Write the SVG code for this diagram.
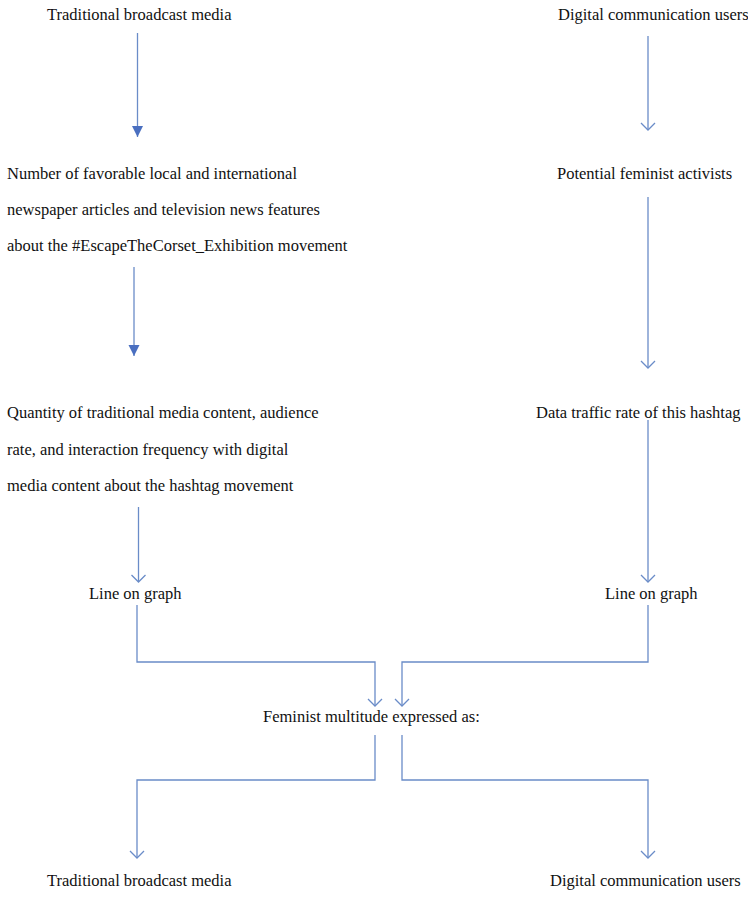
<svg xmlns="http://www.w3.org/2000/svg" width="748" height="919" viewBox="0 0 748 919">
<style>
text{font-family:'Liberation Serif','Times New Roman',Times,'DejaVu Serif',serif;font-size:16.5px;fill:#111}
.c{fill:none;stroke:#6a8cc8;stroke-width:1.3}
</style>
<defs>
<marker id="open" markerWidth="16" markerHeight="16" refX="14" refY="8" orient="auto" markerUnits="userSpaceOnUse" viewBox="0 0 16 16">
<path d="M7,1 L14,8 L7,15" fill="none" stroke="#6a8cc8" stroke-width="1.3"/>
</marker>
<marker id="tri" markerWidth="12" markerHeight="12" refX="11" refY="6" orient="auto" markerUnits="userSpaceOnUse" viewBox="0 0 12 12">
<path d="M0,0.5 L11,6 L0,11.5 Z" fill="#4a6fc0"/>
</marker>
</defs>
<g id="n1"><text x="47" y="20">Traditional broadcast media</text></g>
<g id="n2"><text x="558" y="20">Digital communication users</text></g>
<g id="n3"><text x="7" y="179">Number of favorable local and international</text><text x="7" y="215">newspaper articles and television news features</text><text x="7" y="251">about the #EscapeTheCorset_Exhibition movement</text></g>
<g id="n4"><text x="557" y="179">Potential feminist activists</text></g>
<g id="n5"><text x="7" y="418">Quantity of traditional media content, audience</text><text x="7" y="455">rate, and interaction frequency with digital</text><text x="7" y="491">media content about the hashtag movement</text></g>
<g id="n6"><text x="536" y="418">Data traffic rate of this hashtag</text></g>
<g id="n7"><text x="89" y="599">Line on graph</text></g>
<g id="n8"><text x="605" y="599">Line on graph</text></g>
<g id="n9"><text x="263" y="722">Feminist multitude expressed as:</text></g>
<g id="n10"><text x="47" y="886">Traditional broadcast media</text></g>
<g id="n11"><text x="550" y="886">Digital communication users</text></g>
<g id="connectors">
<path class="c" d="M137.5,33 V137" marker-end="url(#tri)"/>
<path class="c" d="M648,36 V130" marker-end="url(#open)"/>
<path class="c" d="M134,267 V356" marker-end="url(#tri)"/>
<path class="c" d="M648,197 V368" marker-end="url(#open)"/>
<path class="c" d="M138.5,507 V582" marker-end="url(#open)"/>
<path class="c" d="M648,420 V582" marker-end="url(#open)"/>
<path class="c" d="M137,605 V662 H375 V706" marker-end="url(#open)"/>
<path class="c" d="M648,605 V662 H402 V706" marker-end="url(#open)"/>
<path class="c" d="M375,735 V780 H137 V858" marker-end="url(#open)"/>
<path class="c" d="M402,735 V780 H648 V858" marker-end="url(#open)"/>
</g>
</svg>
